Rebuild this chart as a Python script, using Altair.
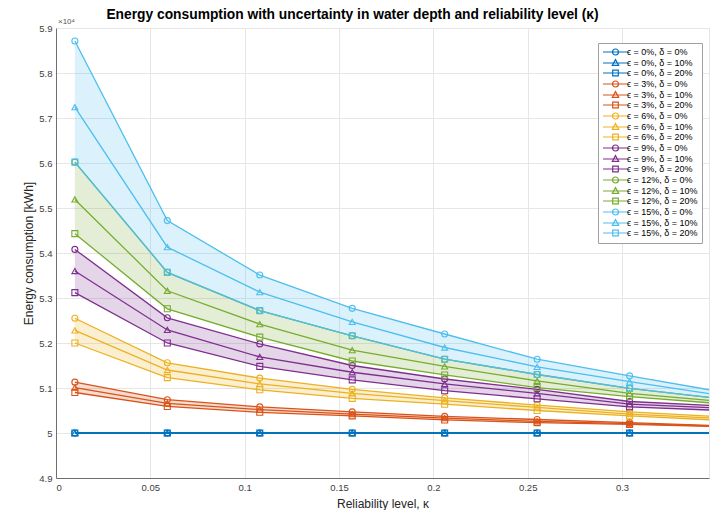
import altair as alt
import pandas as pd

# Reliability level (kappa) sample points
kappa = [0.01, 0.059, 0.108, 0.157, 0.206, 0.255, 0.304, 0.353]

eps_levels = [0, 3, 6, 9, 12, 15]
delta_levels = [0, 10, 20]
eps_colors = ["#0072BD", "#D95319", "#EDB120", "#7E2F8E", "#77AC30", "#4DBEEE"]

# Energy consumption [kWh]
e0_d0 = [50000, 50000, 50000, 50000, 50000, 50000, 50000, 50000]
e0_d10 = [50000, 50000, 50000, 50000, 50000, 50000, 50000, 50000]
e0_d20 = [50000, 50000, 50000, 50000, 50000, 50000, 50000, 50000]

e3_d0 = [51130, 50740, 50580, 50470, 50370, 50300, 50230, 50160]
e3_d10 = [51010, 50660, 50520, 50420, 50330, 50260, 50210, 50150]
e3_d20 = [50900, 50590, 50460, 50380, 50290, 50230, 50190, 50140]

e6_d0 = [52550, 51560, 51220, 50970, 50780, 50620, 50470, 50360]
e6_d10 = [52280, 51400, 51090, 50880, 50720, 50570, 50420, 50320]
e6_d20 = [52000, 51230, 50960, 50770, 50640, 50500, 50380, 50280]

e9_d0 = [54080, 52560, 51980, 51500, 51200, 50970, 50700, 50600]
e9_d10 = [53600, 52290, 51690, 51350, 51090, 50880, 50640, 50550]
e9_d20 = [53120, 52000, 51480, 51180, 50940, 50760, 50580, 50500]

e12_d0 = [56020, 53570, 52720, 52160, 51640, 51300, 50990, 50760]
e12_d10 = [55190, 53160, 52420, 51840, 51480, 51160, 50880, 50700]
e12_d20 = [54430, 52760, 52130, 51600, 51290, 51010, 50810, 50650]

e15_d0 = [58710, 54720, 53510, 52770, 52200, 51640, 51270, 50910]
e15_d10 = [57240, 54130, 53130, 52470, 51900, 51470, 51140, 50830]
e15_d20 = [56020, 53570, 52720, 52160, 51640, 51300, 50990, 50760]

series_values = {
    0: [e0_d0, e0_d10, e0_d20],
    3: [e3_d0, e3_d10, e3_d20],
    6: [e6_d0, e6_d10, e6_d20],
    9: [e9_d0, e9_d10, e9_d20],
    12: [e12_d0, e12_d10, e12_d20],
    15: [e15_d0, e15_d10, e15_d20],
}

x_ticks = [0, 0.05, 0.1, 0.15, 0.2, 0.25, 0.3]
y_ticks = [49000, 50000, 51000, 52000, 53000, 54000, 55000, 56000, 57000, 58000, 59000]

# ---- build tables ----
rows, band_rows, labels, label_colors = [], [], [], []
for ei, e in enumerate(eps_levels):
    vals = series_values[e]
    for di, d in enumerate(delta_levels):
        lab = f"ϵ = {e}%, δ = {d}%"
        labels.append(lab)
        label_colors.append(eps_colors[ei])
        for k, v in zip(kappa, vals[di]):
            rows.append({"kappa": k, "energy": v, "series": lab, "delta": d, "eps": e})
    for k, hi, lo in zip(kappa, vals[0], vals[2]):
        band_rows.append({"kappa": k, "hi": hi, "lo": lo, "eps": e})

df = pd.DataFrame(rows)
bands = pd.DataFrame(band_rows)
legend_df = df[df["kappa"] == kappa[0]]

FONT = "Liberation Sans"

x_enc = alt.X("kappa:Q", scale=alt.Scale(domain=[0, 0.3461], nice=False, zero=False),
              axis=alt.Axis(values=x_ticks, labelExpr="format(datum.value, '~g')",
                            title="Reliability level, κ", titleFontSize=12,
                            titleFontWeight="normal", labelPadding=4, titlePadding=7))
y_enc = alt.Y("energy:Q", scale=alt.Scale(domain=[49000, 59000], nice=False, zero=False),
              axis=alt.Axis(values=y_ticks, labelExpr="format(datum.value/10000, '~g')",
                            title="Energy consumption [kWh]", titleFontSize=12,
                            titleFontWeight="normal", labelPadding=4, titlePadding=3))

color_scale = alt.Scale(domain=labels, range=label_colors)

areas = alt.Chart(bands).mark_area(opacity=0.2, clip=True).encode(
    x=x_enc,
    y=alt.Y("hi:Q", scale=alt.Scale(domain=[49000, 59000], nice=False, zero=False)),
    y2="lo:Q",
    color=alt.Color("eps:N", scale=alt.Scale(domain=eps_levels, range=eps_colors), legend=None),
)

lines = alt.Chart(df).mark_line(strokeWidth=1.3, clip=True).encode(
    x=x_enc, y=y_enc,
    color=alt.Color("series:N", scale=color_scale, legend=None),
    order=alt.Order("kappa:Q"),
)

points = alt.Chart(df).mark_point(filled=False, strokeWidth=1.1, size=36, opacity=1, clip=True).encode(
    x=x_enc, y=y_enc,
    color=alt.Color("series:N", scale=color_scale, legend=None),
    shape=alt.Shape("delta:N", scale=alt.Scale(domain=delta_levels,
                                               range=["circle", "triangle-up", "square"]),
                    legend=None),
)

# legend glyphs: a short line with the marker in its middle (1 unit = 4 px)
line_path = "M-1,0L5.25,0"
marker_paths = [
    line_path + "M1.375,0A0.75,0.75,0,1,0,2.875,0A0.75,0.75,0,1,0,1.375,0",
    line_path + "M2.125,-0.85L2.925,0.6L1.325,0.6Z",
    line_path + "M1.425,-0.7H2.825V0.7H1.425Z",
]
legend_shapes = [marker_paths[i % 3] for i in range(len(labels))]

legend_params = dict(
    title=None, orient="none", legendX=542, legendY=15, padding=4,
    symbolSize=64, symbolStrokeWidth=1.2, symbolOpacity=1,
    labelFontSize=9, labelFont=FONT, labelColor="#000000", labelOffset=15,
    rowPadding=-1.2, strokeColor="#a0a0a0", fillColor="white",
)

legend_layer = alt.Chart(legend_df).mark_point(filled=False, opacity=0).encode(
    x=x_enc, y=y_enc,
    color=alt.Color("series:N", scale=color_scale, legend=alt.Legend(**legend_params)),
    shape=alt.Shape("series:N", scale=alt.Scale(domain=labels, range=legend_shapes),
                    legend=alt.Legend(**legend_params)),
)

exp_label = alt.Chart(pd.DataFrame({"t": ["×10⁴"]})).mark_text(
    align="left", baseline="middle", fontSize=8, font=FONT, color="#555555"
).encode(x=alt.value(2), y=alt.value(-6), text="t:N")

chart = alt.layer(areas, lines, points, legend_layer, exp_label).resolve_scale(
    color="independent", shape="independent"
).properties(
    width=653, height=450,
    autosize=alt.AutoSizeParams(type="none"),
    padding={"left": 48, "top": 20, "right": 1, "bottom": 32},
    title=alt.TitleParams(
        "Energy consumption with uncertainty in water depth and reliability level (κ)",
        fontSize=13.8, fontWeight="bold", font=FONT, color="#000000",
        anchor="middle", dx=-30, dy=10, offset=6,
    ),
).configure_axis(
    labelFont=FONT, titleFont=FONT, labelFontSize=9.5, titleColor="#262626",
    labelColor="#404040", gridColor="#e6e6e6", domainColor="#6e6e6e",
    ticks=False, grid=True,
).configure_view(stroke="#e6e6e6")

chart.save("out.html", embed_options={"renderer": "svg", "actions": False})
